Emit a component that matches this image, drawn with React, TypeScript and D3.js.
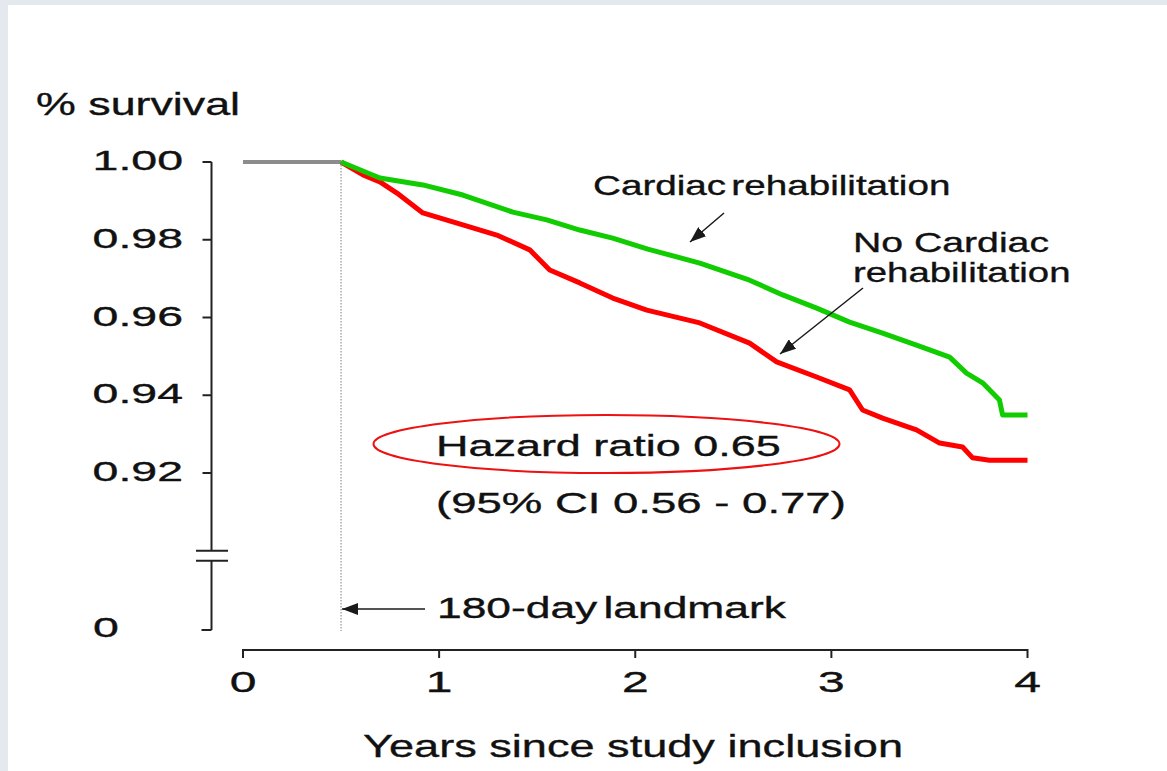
import React from "react";
import * as d3 from "d3";

// x axis (years) and y axis (survival) ticks
const yearTicks = [0, 1, 2, 3, 4];
const survTicks = [1.0, 0.98, 0.96, 0.94, 0.92];
const landmark = 0.5;

// cardiac rehabilitation (green)
const crTime = [0.5, 0.698, 0.917, 1.121, 1.376, 1.549, 1.717, 1.885, 2.064, 2.329, 2.583, 2.752, 2.925, 3.093, 3.261, 3.434, 3.603, 3.689, 3.771, 3.857, 3.873, 4.0];
const crSurv = [1.0, 0.9959, 0.9941, 0.9915, 0.9871, 0.9851, 0.9825, 0.9804, 0.9776, 0.974, 0.9696, 0.9658, 0.9624, 0.9588, 0.956, 0.9529, 0.9498, 0.9457, 0.9432, 0.9388, 0.9349, 0.9349];

// no cardiac rehabilitation (red)
const noTime = [0.5, 0.612, 0.698, 0.785, 0.917, 1.121, 1.294, 1.462, 1.564, 1.717, 1.885, 2.059, 2.329, 2.583, 2.721, 2.925, 3.093, 3.159, 3.261, 3.434, 3.552, 3.669, 3.72, 3.806, 4.0];
const noSurv = [1.0, 0.9967, 0.9949, 0.992, 0.9869, 0.9838, 0.9812, 0.9774, 0.9722, 0.9689, 0.965, 0.9619, 0.9586, 0.9534, 0.9486, 0.9447, 0.9414, 0.9362, 0.9341, 0.9311, 0.9277, 0.9267, 0.9239, 0.9233, 0.9233];

const FONT = "'Liberation Sans', Arial, Helvetica, sans-serif";

interface ILabelProps {
    x: number,
    y: number,
    sx: number,
    size: number,
    anchor?: "start" | "middle" | "end",
    wordSpacing?: number,
    children: React.ReactNode
}

// the source text is stretched sideways, so scale it the same way
function Label(props: ILabelProps) {
    const { x, y, sx, size, anchor = "start", wordSpacing = 0, children } = props;
    return <text
        transform={`translate(${x},${y}) scale(${sx},1)`}
        fontSize={size}
        fontFamily={FONT}
        textAnchor={anchor}
        wordSpacing={wordSpacing}
        fill="#111"
        stroke="#111"
        strokeWidth={0.35}>
        {children}
    </text>;
}

export default function App() {
    const width = 1167;
    const height = 771;

    const x = d3.scaleLinear([0, 4], [243, 1027.5]);
    const y = d3.scaleLinear([0.92, 1.0], [473, 162]);

    const axisX = 211.5;
    const breakY = y(0.9);
    const bottomY = 630;
    const xAxisY = 650;

    const line = d3.line<[number, number]>()
        .x(d => x(d[0]))
        .y(d => y(d[1]));

    const crPts = crTime.map((t, i) => [t, crSurv[i]] as [number, number]);
    const noPts = noTime.map((t, i) => [t, noSurv[i]] as [number, number]);
    const prePts: [number, number][] = [[0, 1.0], [landmark, 1.0]];

    return <svg width={width} height={height}
        style={{ position: "absolute", left: 0, top: 0, display: "block" }}>
        <defs>
            <marker id="head" viewBox="0 0 16 12" refX={16} refY={6}
                markerWidth={16} markerHeight={12} markerUnits="userSpaceOnUse" orient="auto">
                <path d="M0,0 L16,6 L0,12 Z" fill="#1a1a1a" />
            </marker>
        </defs>
        <rect x={0} y={0} width={width} height={height} fill="#e4e8ef" />
        <rect x={8} y={5} width={width - 8} height={height - 5} fill="#ffffff" />

        {/* y axis with break */}
        <g stroke="#222" strokeWidth={2} fill="none">
            <line x1={axisX} x2={axisX} y1={y(1.0)} y2={breakY} />
            <line x1={axisX} x2={axisX} y1={breakY + 10} y2={bottomY} />
            <line x1={196} x2={228} y1={breakY} y2={breakY} />
            <line x1={196} x2={228} y1={breakY + 10} y2={breakY + 10} />
            {survTicks.map(t => <line key={t} x1={axisX - 9} x2={axisX} y1={y(t)} y2={y(t)} />)}
            <line x1={axisX - 10} x2={axisX} y1={bottomY} y2={bottomY} />
        </g>
        {survTicks.map(t => <Label key={t} x={183} y={y(t) + 8} sx={1.66} size={28} anchor="end">{t.toFixed(2)}</Label>)}
        <Label x={93} y={bottomY + 7} sx={1.66} size={28}>0</Label>
        <Label x={36} y={115} sx={1.4} size={32}>% survival</Label>

        {/* x axis */}
        <g stroke="#222" strokeWidth={2} fill="none">
            <line x1={x(0)} x2={x(4)} y1={xAxisY} y2={xAxisY} />
            {yearTicks.map(t => <line key={t} x1={x(t)} x2={x(t)} y1={xAxisY - 1} y2={xAxisY + 8} />)}
        </g>
        {yearTicks.map(t => <Label key={t} x={x(t)} y={692} sx={1.6} size={30} anchor="middle">{t}</Label>)}
        <Label x={363} y={757} sx={1.41} size={32}>Years since study inclusion</Label>

        {/* landmark */}
        <line x1={x(landmark)} x2={x(landmark)} y1={y(1.0)} y2={bottomY + 1}
            stroke="#aaa" strokeWidth={1.5} strokeDasharray="1.5,1.5" />
        <path d={line(prePts)!} stroke="#8c8c8c" strokeWidth={4} fill="none" />

        {/* curves */}
        <path d={line(noPts)!} stroke="#ff0000" strokeWidth={5} fill="none" strokeLinejoin="round" />
        <path d={line(crPts)!} stroke="#11cc00" strokeWidth={5} fill="none" strokeLinejoin="round" />

        {/* annotations */}
        <Label x={593} y={195} sx={1.38} size={28} wordSpacing={-4}>Cardiac rehabilitation</Label>
        <line x1={724} y1={213} x2={690} y2={242} stroke="#1a1a1a" strokeWidth={1.5} markerEnd="url(#head)" />
        <Label x={853} y={252} sx={1.4} size={28}>No Cardiac</Label>
        <Label x={853} y={282} sx={1.37} size={28}>rehabilitation</Label>
        <line x1={863} y1={288} x2={780} y2={354} stroke="#1a1a1a" strokeWidth={1.5} markerEnd="url(#head)" />

        <line x1={425} y1={609} x2={x(landmark) + 1} y2={609} stroke="#1a1a1a" strokeWidth={1.5} markerEnd="url(#head)" />
        <Label x={437} y={618} sx={1.53} size={29} wordSpacing={-4}>180-day landmark</Label>

        <ellipse cx={606.5} cy={444} rx={233} ry={29} fill="none" stroke="#ee1111" strokeWidth={2} />
        <Label x={436} y={456} sx={1.55} size={29}>Hazard ratio 0.65</Label>
        <Label x={436} y={513} sx={1.57} size={29}>(95% CI 0.56 - 0.77)</Label>
    </svg>;
}
